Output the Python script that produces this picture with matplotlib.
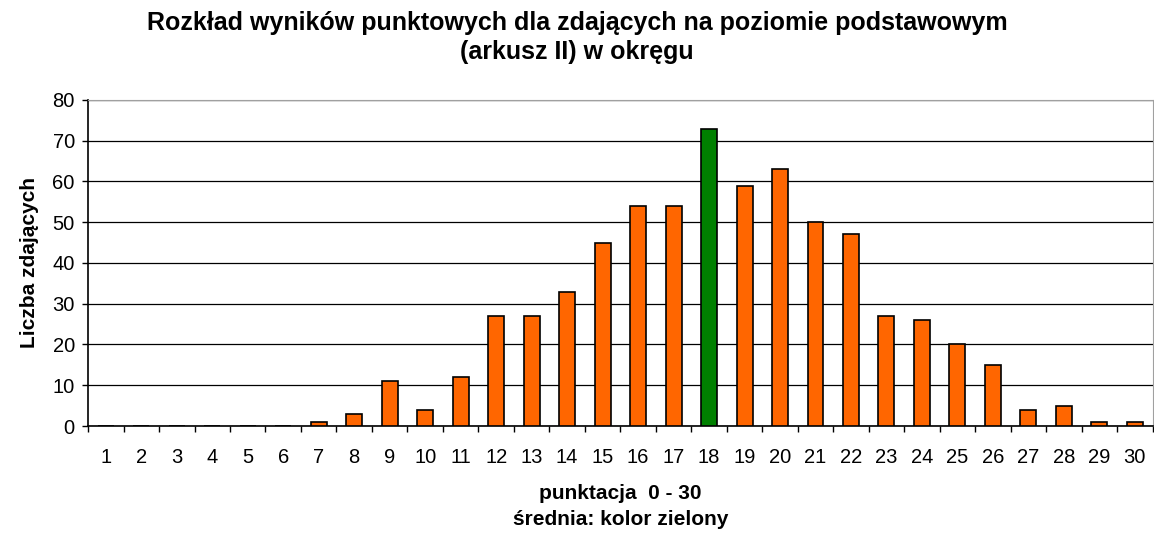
import matplotlib
matplotlib.use('Agg')
import matplotlib.pyplot as plt
import numpy as np

punkty = list(range(1, 31))
liczba = [0, 0, 0, 0, 0, 0, 1, 3, 11, 4, 12, 27, 27, 33, 45, 54, 54, 73, 59, 63,
          50, 47, 27, 26, 20, 15, 4, 5, 1, 1]
srednia = 18

plt.rcParams['font.family'] = ['Liberation Sans', 'DejaVu Sans']

fig = plt.figure(figsize=(11.54, 5.37), dpi=100)
ax = fig.add_axes([0.0763, 0.2067, 0.9225, 0.6071])

kolory = ['#008000' if p == srednia else '#FF6600' for p in punkty]
ax.bar(punkty, liczba, width=0.45, color=kolory, edgecolor='black', linewidth=1.2, zorder=3)

ax.set_xlim(0.5, 30.5)
ax.set_ylim(0, 80)
ax.set_yticks(range(0, 81, 10))
ax.yaxis.grid(True, color='black', linewidth=0.9, zorder=0)
ax.set_xticks(punkty)
ax.set_xticks(np.arange(0.5, 31, 1), minor=True)
ax.tick_params(axis='x', which='major', length=0, pad=16, labelsize=14.5)
ax.tick_params(axis='x', which='minor', length=4.5, width=1, direction='out')
ax.tick_params(axis='y', length=4.5, width=1, labelsize=14.5, pad=5)

for s in ['top', 'right']:
    ax.spines[s].set_color('#a0a0a0')
ax.spines['left'].set_linewidth(1.2)
ax.spines['bottom'].set_linewidth(1.2)

ax.set_ylabel('Liczba zdających', fontsize=15, fontweight='bold', labelpad=10)
ax.set_xlabel('punktacja  0 - 30\nśrednia: kolor zielony', fontsize=15,
              fontweight='bold', labelpad=12, linespacing=1.45)
fig.suptitle('Rozkład wyników punktowych dla zdających na poziomie podstawowym\n(arkusz II) w okręgu',
             fontsize=18, fontweight='bold', y=0.98, linespacing=1.3)

fig.savefig('out.png', dpi=100)
